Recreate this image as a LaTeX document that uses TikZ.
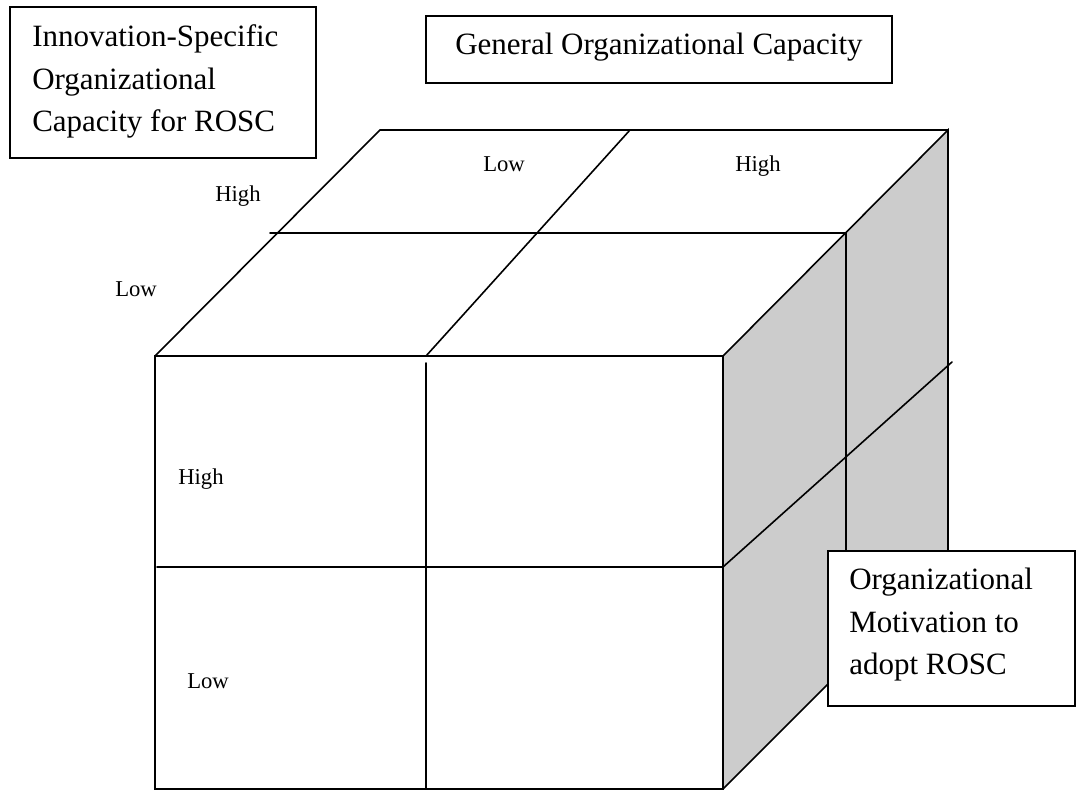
\documentclass[tikz,border=0pt]{standalone}
\usepackage{fontspec}
\setmainfont{Liberation Serif}
\definecolor{facegray}{HTML}{CCCCCC}
\tikzset{
  edge/.style={line width=1.2pt, line cap=round, line join=miter},
  bigtext/.style={font=\fontsize{23.25pt}{31.9pt}\selectfont, anchor=base west, inner sep=0pt, align=left},
  smalltext/.style={font=\fontsize{17pt}{20pt}\selectfont, anchor=base west, inner sep=0pt},
  labelbox/.style={draw, line width=1.2pt, fill=white}
}
\begin{document}
\begin{tikzpicture}[x=0.75pt,y=-0.75pt]
\useasboundingbox (0,0) rectangle (1076,791);
% cube corners
\coordinate (FTL) at (155,356);
\coordinate (FTR) at (723,356);
\coordinate (FBL) at (155,789);
\coordinate (FBR) at (723,789);
\coordinate (BTL) at (380,130);
\coordinate (BTR) at (948,130);
\coordinate (BBR) at (948,564);
\coordinate (TMidL) at (270,233);
\coordinate (TMidR) at (846,233);
\coordinate (TDivF) at (426,356);
\coordinate (TDivB) at (630,130);
\coordinate (FVTop) at (426,363);
\coordinate (FVBot) at (426,789);
\coordinate (FHL) at (157,567);
\coordinate (FHR) at (723,567);
\coordinate (RDiagEnd) at (952,362);
\coordinate (RVBot) at (846,700);
% right face
\fill[facegray] (FTR) -- (BTR) -- (BBR) -- (FBR) -- cycle;
\draw[edge] (FTR) -- (BTR) -- (BBR);
\draw[edge] (FBR) -- (BBR);
\draw[edge] (TMidR) -- (RVBot);
\draw[edge] (FHR) -- (RDiagEnd);
% top face
\draw[edge] (FTL) -- (BTL) -- (BTR);
\draw[edge] (TMidL) -- (TMidR);
\draw[edge] (TDivF) -- (TDivB);
% front face
\draw[edge] (FTL) rectangle (FBR);
\draw[edge] (FVTop) -- (FVBot);
\draw[edge] (FHL) -- (FHR);
% small labels
\node[smalltext] (tophigh) at (215,202) {High};
\node[smalltext] (toplow) at (115,297) {Low};
\node[smalltext] (genlow) at (483,172) {Low};
\node[smalltext] (genhigh) at (735,172) {High};
\node[smalltext] (fronthigh) at (178,485) {High};
\node[smalltext] (frontlow) at (187,689) {Low};
% boxes
\draw[labelbox] (10,7) rectangle (316,158);
\node[bigtext] (innov) at (32,132) {Innovation-Specific\\Organizational\\Capacity for ROSC};
\draw[labelbox] (426,16) rectangle (892,83);
\node[bigtext] (general) at (455,55) {General Organizational Capacity};
\draw[labelbox] (828,551) rectangle (1075,706);
\node[bigtext] (motiv) at (849,675) {Organizational\\Motivation to\\adopt ROSC};
\end{tikzpicture}
\end{document}
